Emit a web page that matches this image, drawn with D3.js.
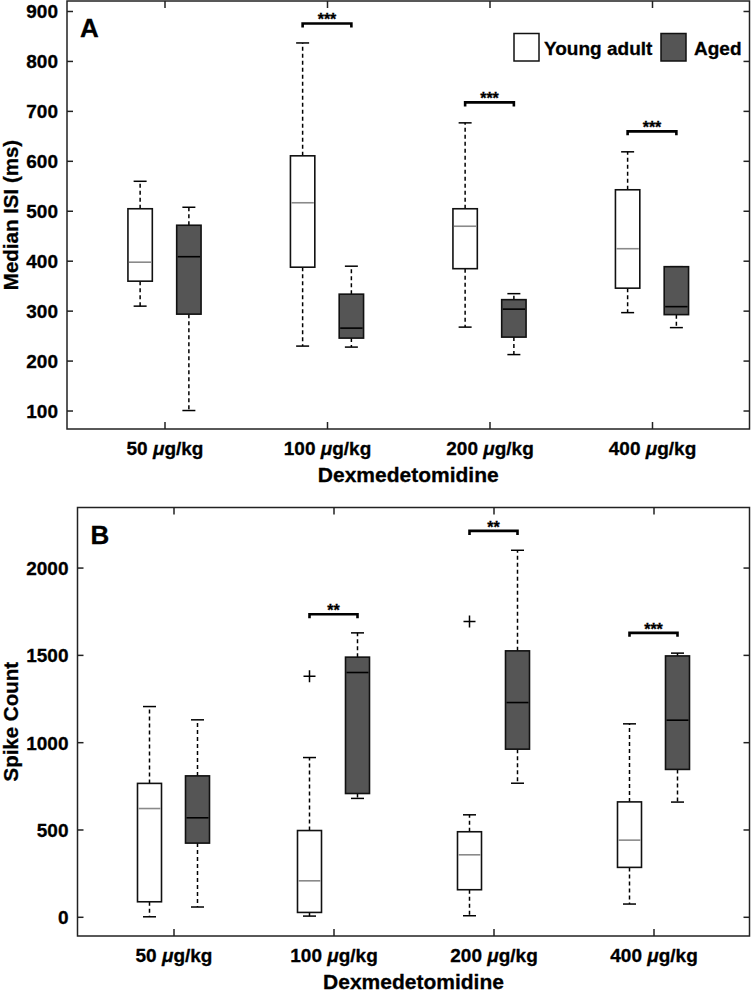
<!DOCTYPE html>
<html lang="en">
<head>
    <meta charset="UTF-8">
    <title>ISI and spike count</title>
    <script src="https://d3js.org/d3.v7.min.js"></script>
    <style>
        body { margin: 0; background: #fff; }
        svg text { font-family: "Liberation Sans", Arial, sans-serif; font-weight: bold; fill: #000; stroke: #000; stroke-width: 0.3px; }
    </style>
</head>
<body>
    <svg width="751" height="992"></svg>

    <script>
        // dose groups (x categories)
        const doses = ["50", "100", "200", "400"];
        const groups = ["Young adult", "Aged"];

        // box stats per dose: [lower whisker, Q1, median, Q3, upper whisker]
        const isiYoung = [[309, 359, 397, 504, 559], [229, 387, 516, 610, 836], [267, 384, 469, 504, 676], [296, 345, 424, 542, 618]];
        const isiAged = [[100, 293, 408, 471, 507], [227, 245, 265, 333, 389], [212, 247, 303, 322, 334], [266, 292, 308, 388, 388]];
        const isiSigLevel = [null, 875, 717, 659];
        const isiSigStars = ["", "***", "***", "***"];
        const isiTicks = [100, 200, 300, 400, 500, 600, 700, 800, 900];

        const spikeYoung = [[0, 86, 620, 764, 1204], [4, 25, 206, 494, 912], [6, 155, 355, 487, 584], [73, 283, 439, 658, 1105]];
        const spikeAged = [[56, 422, 567, 807, 1128], [678, 706, 1399, 1487, 1626], [765, 960, 1227, 1523, 2099], [657, 844, 1126, 1494, 1510]];
        const spikeYoungOut = [[], [1378], [1691], []];
        const spikeAgedOut = [[], [], [], []];
        const spikeSigLevel = [null, 1733, 2210, 1626];
        const spikeSigStars = ["", "**", "**", "***"];
        const spikeTicks = [0, 500, 1000, 1500, 2000];

        const svg = d3.select("svg");
        const youngFill = "#ffffff", agedFill = "#555555";

        function drawPanel(o) {
            const g = svg.append("g");
            const x = d3.scaleLinear().domain([0.4, 4.6]).range([o.left, o.right]);
            const y = d3.scaleLinear().domain(o.yDomain).range([o.bottom, o.top]);
            const off = 0.15, bw = x(0.15) - x(0), cap = 6.5;

            // frame
            g.append("rect")
                .attr("x", o.left).attr("y", o.top)
                .attr("width", o.right - o.left).attr("height", o.bottom - o.top)
                .attr("fill", "none").attr("stroke", "#222").attr("stroke-width", 1.5);

            // axes with inward ticks
            const xb = g.append("g").attr("transform", `translate(0,${o.bottom})`)
                .call(d3.axisBottom(x).tickValues([1, 2, 3, 4]).tickSizeInner(-7).tickSizeOuter(0).tickPadding(13)
                    .tickFormat(function (d) { return doses[d - 1]; }));
            g.append("g").attr("transform", `translate(0,${o.top})`)
                .call(d3.axisTop(x).tickValues([1, 2, 3, 4]).tickSizeInner(-7).tickSizeOuter(0).tickFormat(""));
            const yl = g.append("g").attr("transform", `translate(${o.left},0)`)
                .call(d3.axisLeft(y).tickValues(o.ticks).tickSizeInner(-6).tickSizeOuter(0).tickPadding(9)
                    .tickFormat(d3.format("d")));
            g.append("g").attr("transform", `translate(${o.right},0)`)
                .call(d3.axisRight(y).tickValues(o.ticks).tickSizeInner(-6).tickSizeOuter(0).tickFormat(""));
            g.selectAll(".domain").remove();
            g.selectAll(".tick line").attr("stroke", "#222").attr("stroke-width", 1.5);
            yl.selectAll("text").attr("font-size", 19).attr("dy", "0.36em")
                .attr("font-family", "Liberation Sans, Arial, sans-serif").attr("font-weight", "bold");
            xb.selectAll("text").attr("font-size", 19).attr("dy", "0.71em")
                .attr("font-family", "Liberation Sans, Arial, sans-serif").attr("font-weight", "bold")
                .each(function (d) {
                    const t = d3.select(this).text("");
                    t.append("tspan").text(doses[d - 1] + " ");
                    t.append("tspan").attr("font-style", "italic").text("\u03bc");
                    t.append("tspan").text("g/kg");
                });

            // boxes
            const series = [
                { stats: o.young, out: o.youngOut, dx: -off, fill: youngFill, med: "#8a8a8a" },
                { stats: o.aged, out: o.agedOut, dx: off, fill: agedFill, med: "#000" }
            ];
            series.forEach(function (s) {
                s.stats.forEach(function (st, i) {
                    const cx = x(i + 1 + s.dx);
                    const bg = g.append("g");
                    // whiskers
                    [[st[3], st[4]], [st[1], st[0]]].forEach(function (w) {
                        if (w[0] !== w[1]) {
                            bg.append("line").attr("x1", cx).attr("x2", cx)
                                .attr("y1", y(w[0])).attr("y2", y(w[1]))
                                .attr("stroke", "#000").attr("stroke-width", 1.5).attr("stroke-dasharray", "4,3");
                        }
                        bg.append("line").attr("x1", cx - cap).attr("x2", cx + cap)
                            .attr("y1", y(w[1])).attr("y2", y(w[1]))
                            .attr("stroke", "#000").attr("stroke-width", 1.5);
                    });
                    bg.append("rect")
                        .attr("x", cx - bw / 2).attr("width", bw)
                        .attr("y", y(st[3])).attr("height", y(st[1]) - y(st[3]))
                        .attr("fill", s.fill).attr("stroke", "#111").attr("stroke-width", 1.6);
                    bg.append("line").attr("x1", cx - bw / 2 + 1).attr("x2", cx + bw / 2 - 1)
                        .attr("y1", y(st[2])).attr("y2", y(st[2]))
                        .attr("stroke", s.med).attr("stroke-width", 1.6);
                    // outliers
                    s.out[i].forEach(function (v) {
                        bg.append("path")
                            .attr("d", `M${cx - 6},${y(v)}H${cx + 6}M${cx},${y(v) - 6}V${y(v) + 6}`)
                            .attr("stroke", "#000").attr("stroke-width", 1.5);
                    });
                });
            });

            // significance brackets
            o.sig.forEach(function (lv, i) {
                if (lv == null) return;
                const x1 = x(i + 1 - off), x2 = x(i + 1 + off), yy = y(lv);
                g.append("path")
                    .attr("d", `M${x1},${yy + 4}V${yy}H${x2}V${yy + 4}`)
                    .attr("fill", "none").attr("stroke", "#000").attr("stroke-width", 2.6);
                g.append("text").attr("x", (x1 + x2) / 2).attr("y", yy + 2)
                    .attr("text-anchor", "middle").attr("font-size", 16).text(o.stars[i]);
            });

            // panel letter
            g.append("text").attr("x", o.left + 13).attr("y", o.top + 36)
                .attr("font-size", 26).text(o.letter);

            // axis titles
            g.append("text").attr("x", (o.left + o.right) / 2).attr("y", o.bottom + 53)
                .attr("text-anchor", "middle").attr("font-size", 21).text("Dexmedetomidine");
            g.append("text")
                .attr("transform", `translate(${o.ylabX},${(o.top + o.bottom) / 2}) rotate(-90)`)
                .attr("text-anchor", "middle").attr("font-size", 20.5).text(o.ylabel);

            return { x: x, y: y };
        }

        drawPanel({
            left: 67, right: 749.5, top: 1, bottom: 429, yDomain: [63, 920], ticks: isiTicks,
            young: isiYoung, aged: isiAged, youngOut: [[], [], [], []], agedOut: [[], [], [], []],
            sig: isiSigLevel, stars: isiSigStars, letter: "A", ylabel: "Median ISI (ms)", ylabX: 18
        });

        drawPanel({
            left: 77.5, right: 749.5, top: 507.5, bottom: 936, yDomain: [-110, 2344], ticks: spikeTicks,
            young: spikeYoung, aged: spikeAged, youngOut: spikeYoungOut, agedOut: spikeAgedOut,
            sig: spikeSigLevel, stars: spikeSigStars, letter: "B", ylabel: "Spike Count", ylabX: 18
        });

        // legend (panel A)
        const legendX = [514, 661];
        const lg = svg.append("g");
        groups.forEach(function (name, i) {
            lg.append("rect").attr("x", legendX[i]).attr("y", 33.5).attr("width", 25).attr("height", 27.5)
                .attr("fill", i === 0 ? youngFill : agedFill).attr("stroke", "#111").attr("stroke-width", 1.5);
            lg.append("text").attr("x", legendX[i] + (i === 0 ? 30 : 33)).attr("y", 55)
                .attr("font-size", 19).text(name);
        });
    </script>
</body>
</html>
